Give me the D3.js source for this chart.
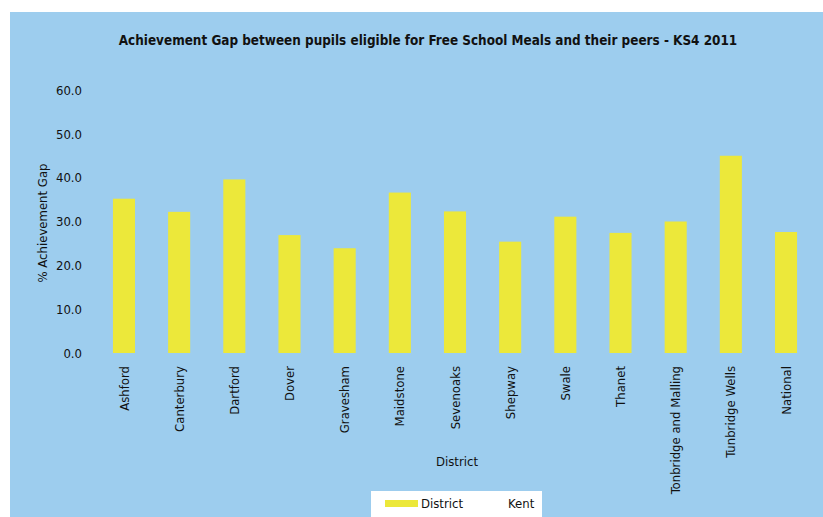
<!DOCTYPE html>
<html>
<head>
<meta charset="utf-8">
<script src="https://cdn.jsdelivr.net/npm/d3@7"></script>
<style>
  body { margin: 0; background: #fff; }
  text { font-family: "DejaVu Sans Condensed", "DejaVu Sans", sans-serif; fill: #111; }
</style>
</head>
<body>
<script>
var districts = ["Ashford", "Canterbury", "Dartford", "Dover", "Gravesham", "Maidstone",
  "Sevenoaks", "Shepway", "Swale", "Thanet", "Tonbridge and Malling", "Tunbridge Wells", "National"];
var gapValues = [35.2, 32.2, 39.6, 26.9, 23.9, 36.6, 32.3, 25.4, 31.1, 27.4, 30.0, 45.0, 27.6];
var yTicks = [0, 10, 20, 30, 40, 50, 60];
var legendItems = ["District", "Kent"];

var width = 823, height = 517;
var blue = "#9dcdee", yellow = "#ece83a";

var svg = d3.select("body").append("svg")
    .attr("width", width)
    .attr("height", height);

svg.append("rect")
    .attr("x", 10).attr("y", 12)
    .attr("width", width - 10).attr("height", height - 12)
    .attr("fill", blue);

var x = d3.scaleBand()
    .domain(districts)
    .range([96.4, 813.6])
    .paddingInner(0.6)
    .paddingOuter(0.3);

var y = d3.scaleLinear()
    .domain([0, 60])
    .range([353, 90]);

svg.append("text")
    .attr("x", 428).attr("y", 45)
    .attr("text-anchor", "middle")
    .style("font-weight", "bold")
    .style("font-size", "13.4px")
    .text("Achievement Gap between pupils eligible for Free School Meals and their peers - KS4 2011");

// y axis
var yAxis = svg.append("g")
    .attr("transform", "translate(88,0)")
    .call(d3.axisLeft(y).tickValues(yTicks).tickFormat(d3.format(".1f")).tickSize(0).tickPadding(6));
yAxis.select(".domain").remove();
yAxis.selectAll("text").style("font-size", "13px").style("font-family", null);

svg.append("text")
    .attr("transform", "translate(47,223) rotate(-90)")
    .attr("text-anchor", "middle")
    .style("font-size", "13px")
    .text("% Achievement Gap");

// bars
svg.selectAll(".bar")
    .data(districts)
  .enter().append("rect")
    .attr("class", "bar")
    .attr("x", function(d) { return x(d); })
    .attr("width", x.bandwidth())
    .attr("y", function(d, i) { return y(gapValues[i]); })
    .attr("height", function(d, i) { return y(0) - y(gapValues[i]); })
    .attr("fill", yellow);

// x axis
var xAxis = svg.append("g")
    .attr("transform", "translate(0,360)")
    .call(d3.axisBottom(x).tickSize(0).tickPadding(0));
xAxis.select(".domain").remove();
xAxis.selectAll("text")
    .style("font-size", "13px")
    .style("font-family", null)
    .attr("text-anchor", "end")
    .attr("transform", "rotate(-90)")
    .attr("x", -6)
    .attr("y", 0)
    .attr("dy", "0.35em");

svg.append("text")
    .attr("x", 457).attr("y", 466)
    .attr("text-anchor", "middle")
    .style("font-size", "13px")
    .text("District");

// legend
var legend = svg.append("g");
legend.append("rect")
    .attr("x", 371).attr("y", 491)
    .attr("width", 171).attr("height", 26)
    .attr("fill", "#fff");
legend.append("rect")
    .attr("x", 385).attr("y", 500)
    .attr("width", 33).attr("height", 7)
    .attr("fill", yellow);
legend.append("text")
    .attr("x", 421).attr("y", 508)
    .style("font-size", "13px")
    .text(legendItems[0]);
legend.append("text")
    .attr("x", 508).attr("y", 508)
    .style("font-size", "13px")
    .text(legendItems[1]);
</script>
</body>
</html>
